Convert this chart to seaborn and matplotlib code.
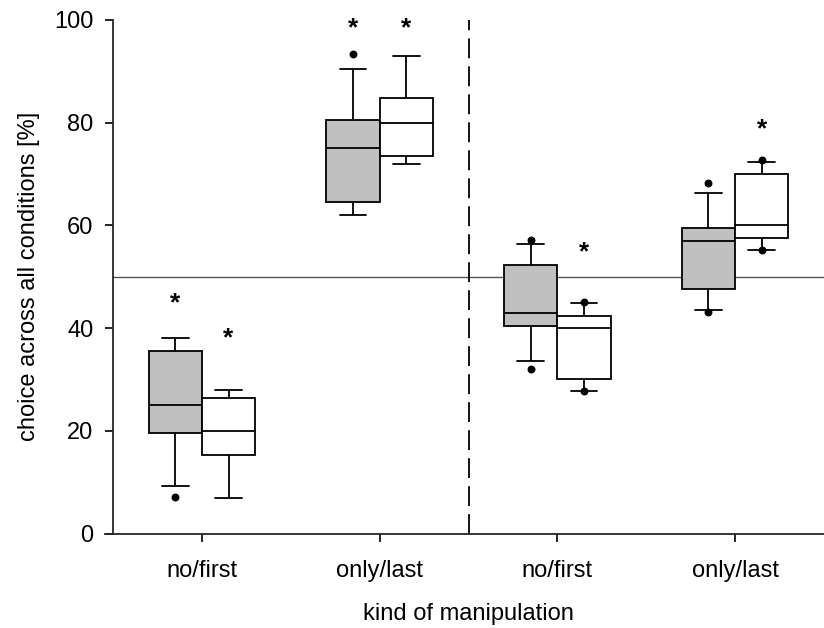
import matplotlib
matplotlib.use("Agg")
import matplotlib.pyplot as plt
import pandas as pd
import seaborn as sns
import numpy as np

# group labels on the x axis
groups = ["no/first", "only/last", "no/first", "only/last"]
group_ids = ["g1", "g2", "g3", "g4"]

# five-number summaries: whisker low, q1, median, q3, whisker high
gray_stats = [
    [9.3, 19.5, 25.0, 35.5, 38.0],
    [62.0, 64.5, 75.0, 80.5, 90.5],
    [33.5, 40.5, 43.0, 52.2, 56.4],
    [43.5, 47.7, 57.0, 59.5, 66.4],
]
white_stats = [
    [7.0, 15.2, 20.0, 26.4, 28.0],
    [72.0, 73.6, 80.0, 84.8, 93.0],
    [27.7, 30.0, 40.0, 42.4, 44.8],
    [55.2, 57.5, 60.0, 70.0, 72.3],
]

# extra dots (5th / 95th percentile points)
gray_dots = [[7.1], [93.3], [57.2, 32.1], [68.3, 43.1]]
white_dots = [[], [], [45.1, 27.7], [72.7, 55.2]]

# significance asterisks (None = no star)
gray_stars = [45.7, 99.2, None, None]
white_stars = [38.9, 99.2, 55.5, 79.6]

# build long table; 5 values per box -> percentiles hit the summary exactly
rows = []
for gid, gs, ws in zip(group_ids, gray_stats, white_stats):
    for v in gs:
        rows.append({"group": gid, "kind": "gray", "value": v})
    for v in ws:
        rows.append({"group": gid, "kind": "white", "value": v})
df = pd.DataFrame(rows)

sns.set_theme(style="ticks")
plt.rcParams["font.family"] = ["Liberation Sans", "DejaVu Sans"]
plt.rcParams["text.color"] = "black"
plt.rcParams["axes.labelcolor"] = "black"
plt.rcParams["xtick.color"] = "black"
plt.rcParams["ytick.color"] = "black"

fig = plt.figure(figsize=(8.24, 6.28), dpi=100)
ax = fig.add_axes([113 / 824, 1 - 533.5 / 628, 1 - 113 / 824, (533.5 - 20) / 628])

sns.boxplot(data=df, x="group", y="value", hue="kind", order=group_ids,
            hue_order=["gray", "white"], palette={"gray": "#c0c0c0", "white": "white"},
            saturation=1, width=0.6, gap=0, whis=np.inf, linecolor="black",
            linewidth=1.3, showfliers=False, legend=False, ax=ax)

offsets = {"gray": -0.15, "white": 0.15}
for i in range(len(group_ids)):
    for kind, dots, stars in [("gray", gray_dots, gray_stars), ("white", white_dots, white_stars)]:
        xpos = i + offsets[kind]
        if dots[i]:
            ax.scatter([xpos] * len(dots[i]), dots[i], s=22, color="black", zorder=5, clip_on=False)
        if stars[i] is not None:
            ax.annotate("*", (xpos, stars[i]), xytext=(0, -3), textcoords="offset points",
                        ha="center", va="center", fontsize=19, fontweight="bold",
                        annotation_clip=False)

ax.axhline(50, color="#555555", lw=1.0, zorder=0)
ax.axvline(1.5, color="black", lw=1.3, dashes=(11, 4.5), zorder=0)

ax.set_xlim(-0.5, 3.5)
ax.set_ylim(0, 100)
ax.set_yticks([0, 20, 40, 60, 80, 100])
ax.set_xticks(range(4))
ax.set_xticklabels(groups)
ax.tick_params(axis="both", labelsize=17, length=6, width=1.2)
ax.tick_params(axis="y", pad=8)
ax.tick_params(axis="x", pad=13)

ax.spines["top"].set_visible(False)
ax.spines["right"].set_visible(False)
ax.spines["left"].set_linewidth(1.3)
ax.spines["bottom"].set_linewidth(1.3)
ax.spines["bottom"].set_bounds(-0.545, 3.5)

ax.set_xlabel("kind of manipulation", fontsize=17, labelpad=15)
ax.set_ylabel("choice across all conditions [%]", fontsize=17, labelpad=10)

fig.savefig("out.png", dpi=100)
